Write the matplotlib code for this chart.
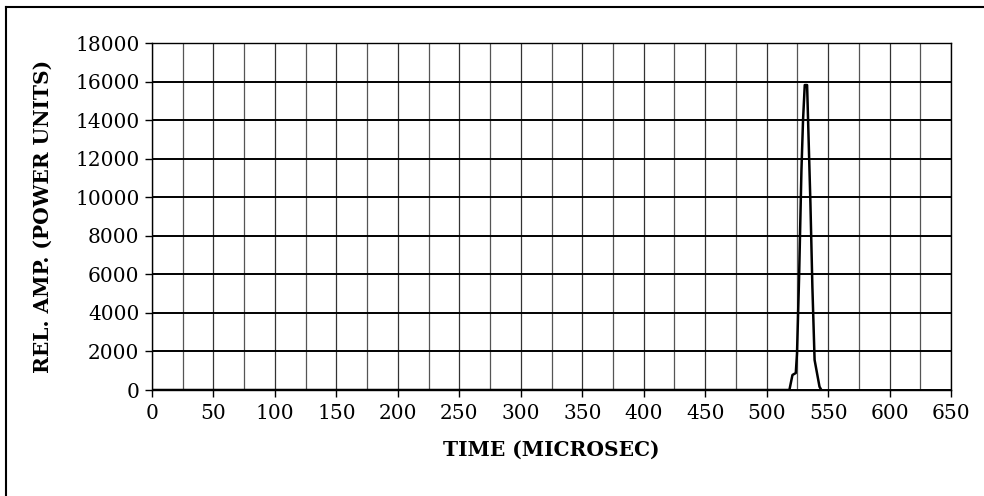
import numpy as np
import matplotlib
matplotlib.use('Agg')
import matplotlib.pyplot as plt
from matplotlib.lines import Line2D

# pulse record: relative amplitude (power units) vs time in microseconds
time_us = [0, 100, 200, 300, 400, 500, 518.5, 521, 523.7, 524.7, 526.4,
           528.3, 529.6, 531, 532.9, 533.7, 535.6, 537.2, 539, 543, 544.5]
rel_amp = [0, 0, 0, 0, 0, 0, 0, 780, 880, 1900, 5880,
           11400, 14000, 15820, 15820, 14000, 9700, 5360, 1560, 170, 0]

x_ticks = np.arange(0, 651, 50)
y_ticks = np.arange(0, 18001, 2000)

plt.rcParams['font.family'] = ['DejaVu Serif']

fig = plt.figure(figsize=(9.84, 4.96), dpi=100)
ax = fig.add_axes([0.1545, 0.2137, 0.812, 0.6996])

ax.plot(time_us, rel_amp, color='black', lw=1.8, zorder=3)

ax.set_xlim(0, 650)
ax.set_ylim(0, 18000)
ax.set_xticks(x_ticks)
ax.set_yticks(y_ticks)
ax.set_xticks(np.arange(25, 650, 50), minor=True)

# vertical grid every 25 us, horizontal grid every 2000
ax.grid(True, which='major', axis='y', color='black', lw=1.4)
ax.grid(True, which='major', axis='x', color='#333333', lw=0.9)
ax.grid(True, which='minor', axis='x', color='#555555', lw=0.9)

ax.tick_params(axis='both', which='major', direction='out', length=5,
               width=1, labelsize=14.5, colors='black')
ax.tick_params(axis='x', which='minor', length=0)
ax.tick_params(axis='x', pad=5)
ax.tick_params(axis='y', pad=4)

for side in ['left', 'bottom', 'top', 'right']:
    ax.spines[side].set_linewidth(1.0)
    ax.spines[side].set_color('black')

ax.set_xlabel('TIME (MICROSEC)', fontsize=14.5, fontweight='bold', labelpad=12)
ax.set_ylabel('REL. AMP. (POWER UNITS)', fontsize=14.5, fontweight='bold',
              labelpad=16)

# outer chart border (left and top edges)
fig.add_artist(Line2D([0.006, 0.006], [0.0, 0.986], color='black', lw=1.5,
                      transform=fig.transFigure))
fig.add_artist(Line2D([0.006, 1.0], [0.986, 0.986], color='black', lw=1.5,
                      transform=fig.transFigure))

fig.savefig('out.png', dpi=100)
